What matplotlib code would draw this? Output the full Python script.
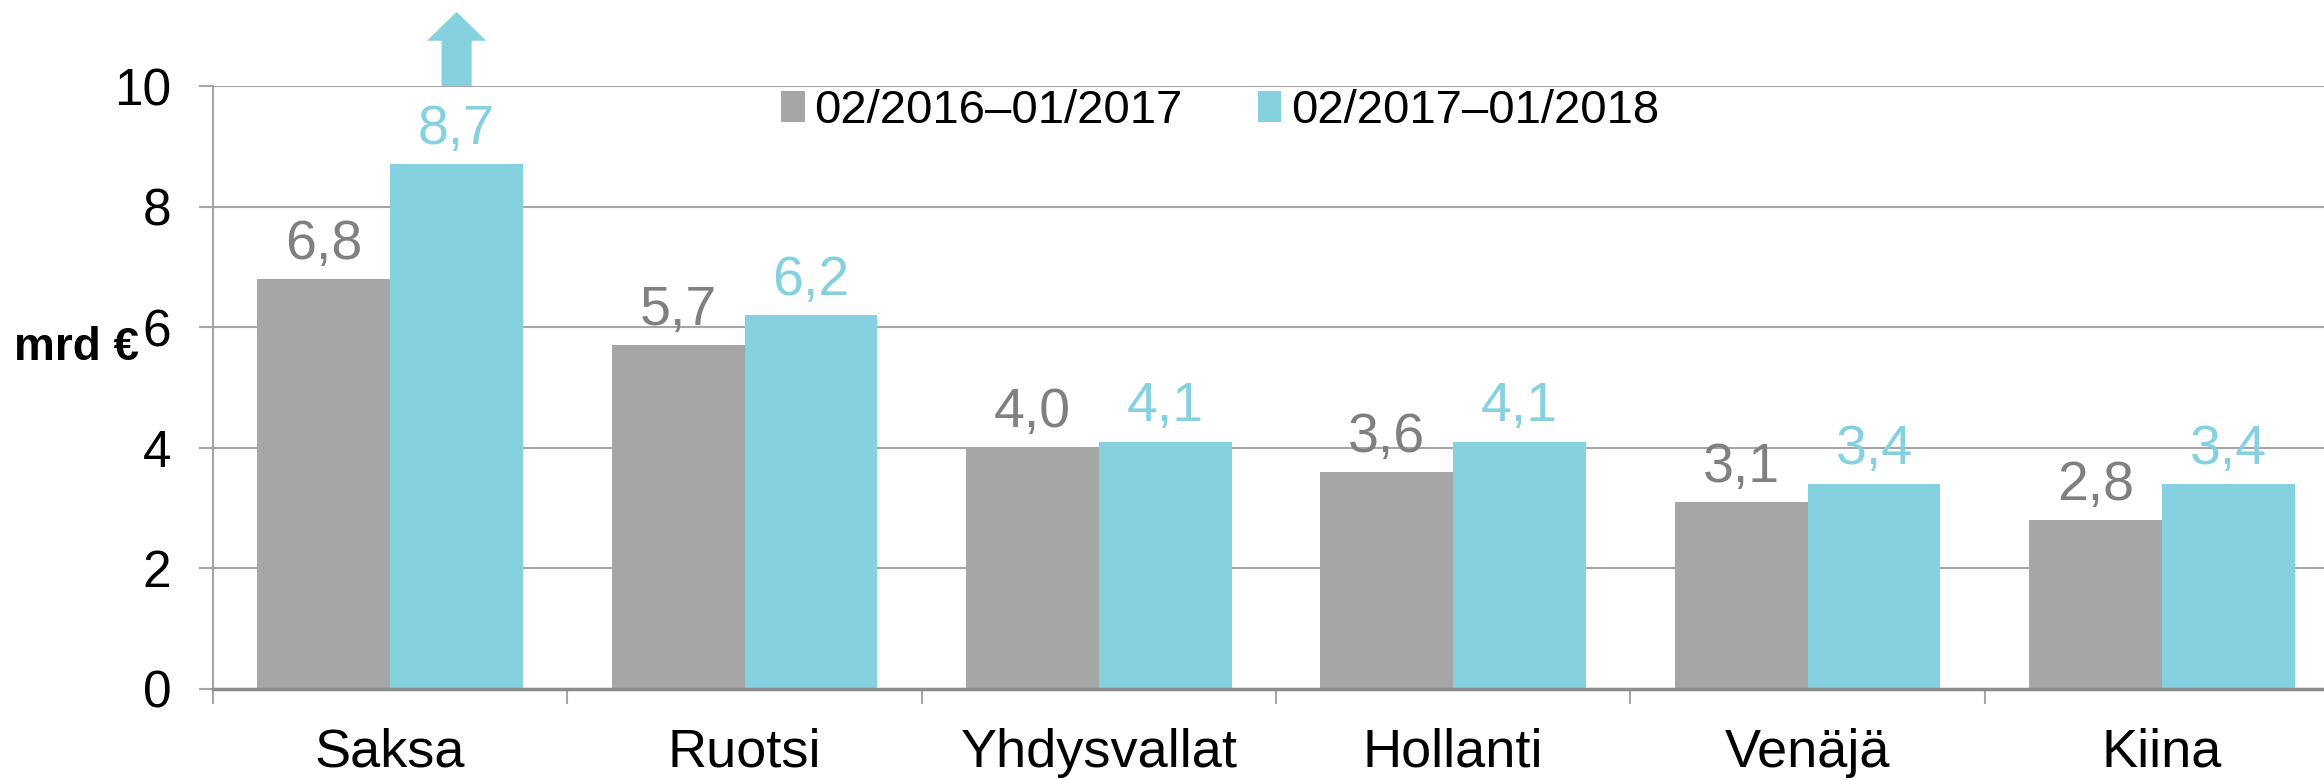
import numpy as np
import matplotlib
matplotlib.use("Agg")
import matplotlib.pyplot as plt

plt.rcParams['font.family'] = ['Liberation Sans', 'DejaVu Sans']

# data
maat = ["Saksa", "Ruotsi", "Yhdysvallat", "Hollanti", "Venäjä", "Kiina"]
kausi_2016 = [6.8, 5.7, 4.0, 3.6, 3.1, 2.8]
kausi_2017 = [8.7, 6.2, 4.1, 4.1, 3.4, 3.4]
sarjat = ["02/2016–01/2017", "02/2017–01/2018"]
y_ticks = [0, 2, 4, 6, 8, 10]

harmaa = "#a6a6a6"
syaani = "#86d1df"
viiva = "#a6a6a6"

fig = plt.figure(figsize=(23.24, 7.8), dpi=100)
ax = fig.add_axes([213/2324, 91/780, (2339-213)/2324, (689-86)/780])

x = np.arange(len(maat))
w = 0.375
b1 = ax.bar(x - w/2, kausi_2016, w, color=harmaa, zorder=3, label=sarjat[0])
b2 = ax.bar(x + w/2, kausi_2017, w, color=syaani, zorder=3, label=sarjat[1])

# arvot palkkien päälle
for rects, vals, col in [(b1, kausi_2016, "#808080"), (b2, kausi_2017, syaani)]:
    for r, v in zip(rects, vals):
        ax.annotate(f"{v:.1f}".replace(".", ","),
                    (r.get_x() + r.get_width()/2, r.get_height()),
                    xytext=(0, 6), textcoords="offset points",
                    ha="center", va="bottom", fontsize=40, color=col, zorder=4)

ax.set_xlim(-0.5, len(maat) - 0.5)
ax.set_ylim(0, 10)
ax.set_yticks(y_ticks)
ax.set_yticklabels([str(t) for t in y_ticks])
ax.set_xticks(x)
ax.set_xticklabels(maat)
ax.set_xticks(np.arange(-0.5, len(maat)), minor=True)

ax.grid(axis="y", color=viiva, linewidth=1.5, zorder=0)
ax.set_axisbelow(True)
for s in ["top", "right"]:
    ax.spines[s].set_visible(False)
ax.spines["left"].set_color(viiva)
ax.spines["left"].set_linewidth(1.5)
ax.spines["bottom"].set_color("#8c8c8c")
ax.spines["bottom"].set_linewidth(2.5)
ax.spines["bottom"].set_zorder(5)

ax.tick_params(axis="y", length=10, width=1.5, color=viiva, pad=20, labelsize=37)
ax.tick_params(axis="x", which="major", length=0, pad=28, labelsize=39)
ax.tick_params(axis="x", which="minor", length=11, width=1.5, color=viiva)

# nuoli Saksan palkin yläpuolelle
ax.arrow(x[0] + w/2, y_ticks[-1], 0, 1.23, width=0.085, head_width=0.167,
         head_length=0.48, length_includes_head=True, color=syaani,
         clip_on=False, zorder=4, linewidth=0)

fig.text(14/2324, 1 - 360/780, "mrd €", ha="left", va="baseline",
         fontsize=33, fontweight="bold")

fig.legend(loc="center left", bbox_to_anchor=(781/2324, 1 - 111/780),
           ncol=2, frameon=False, fontsize=34, handlelength=0.5,
           handleheight=0.66, handletextpad=0.2, columnspacing=1.6,
           borderpad=0, borderaxespad=0)

fig.savefig("out.png", dpi=100)
